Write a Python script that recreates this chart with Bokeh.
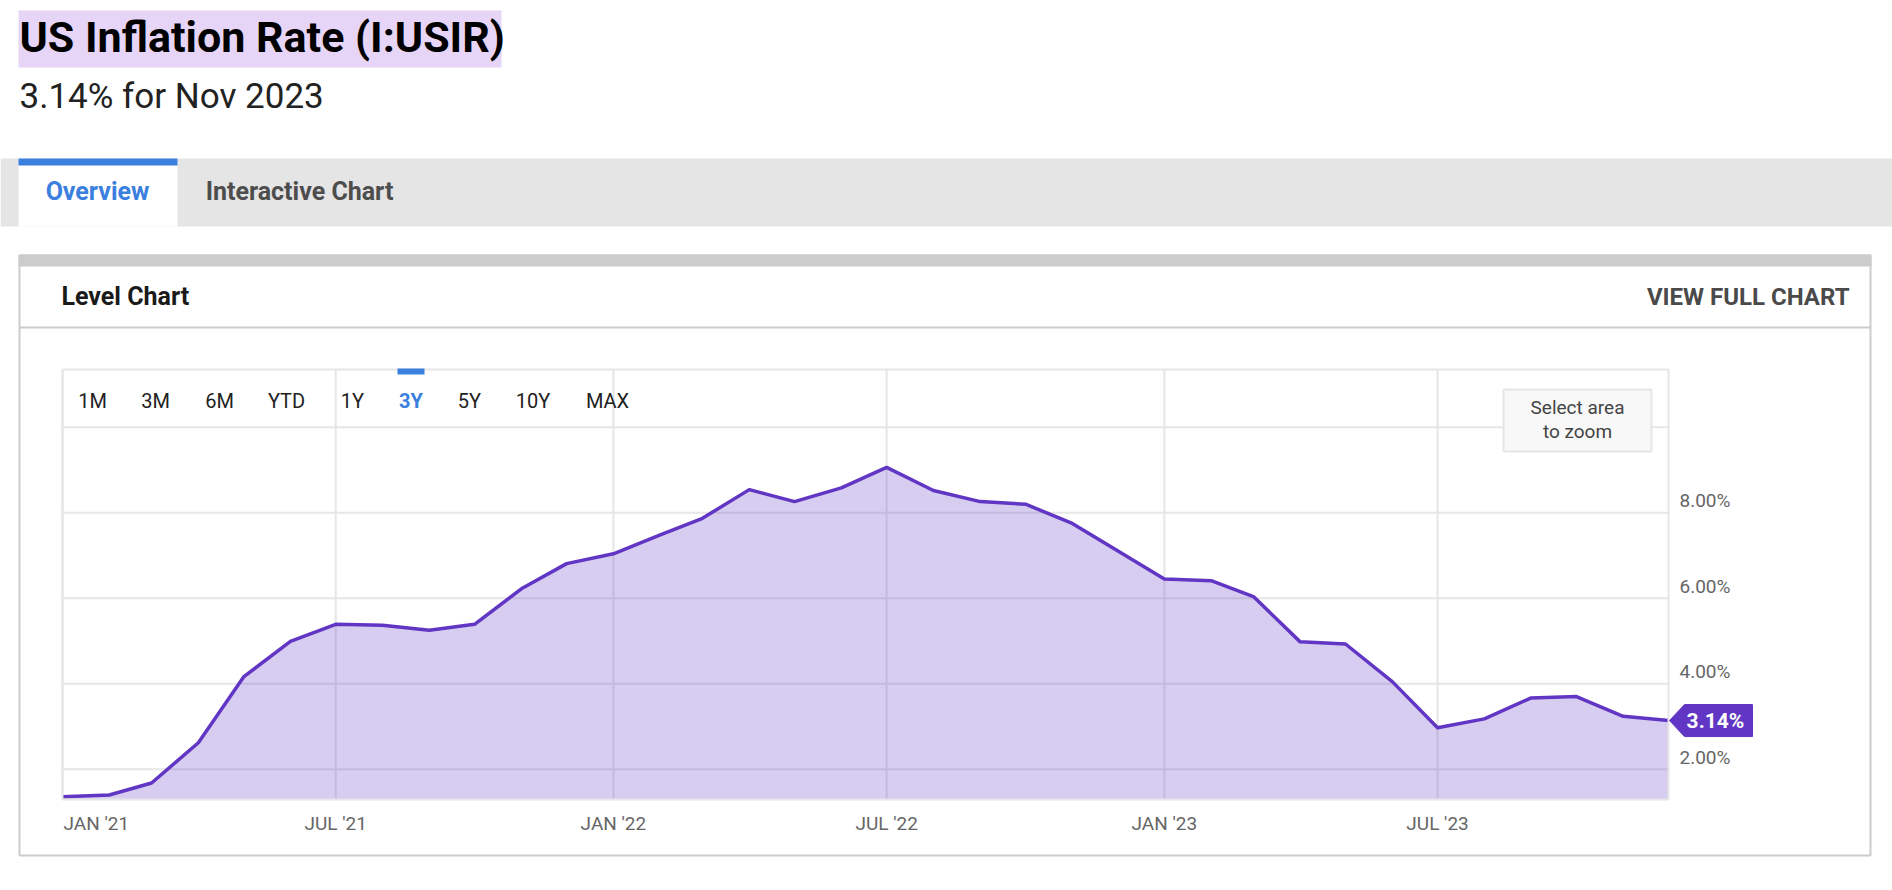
import numpy as np
import pandas as pd
from bokeh.plotting import figure
from bokeh.models import (Range1d, FixedTicker, PrintfTickFormatter, LinearAxis, DatetimeAxis,
                          Label, BoxAnnotation, PolyAnnotation)
from bokeh.embed import file_html
from bokeh.resources import INLINE

# ---------------- data ----------------
months = ["2020-12",
          "2021-01", "2021-02", "2021-03", "2021-04", "2021-05", "2021-06",
          "2021-07", "2021-08", "2021-09", "2021-10", "2021-11", "2021-12",
          "2022-01", "2022-02", "2022-03", "2022-04", "2022-05", "2022-06",
          "2022-07", "2022-08", "2022-09", "2022-10", "2022-11", "2022-12",
          "2023-01", "2023-02", "2023-03", "2023-04", "2023-05", "2023-06",
          "2023-07", "2023-08", "2023-09", "2023-10", "2023-11"]
inflation = [1.36,
             1.40, 1.68, 2.62, 4.16, 4.99, 5.39,
             5.37, 5.25, 5.39, 6.22, 6.81, 7.04,
             7.48, 7.87, 8.54, 8.26, 8.58, 9.06,
             8.52, 8.26, 8.20, 7.75, 7.11, 6.45,
             6.41, 6.04, 4.98, 4.93, 4.05, 2.97,
             3.18, 3.67, 3.70, 3.24, 3.14]
tick_dates = ["2021-01-01", "2021-07-01", "2022-01-01", "2022-07-01", "2023-01-01", "2023-07-01"]
tick_labels = ["JAN '21", "JUL '21", "JAN '22", "JUL '22", "JAN '23", "JUL '23"]
y_grid_ticks = [2, 4, 6, 8, 10]
y_label_ticks = [2, 4, 6, 8]
range_buttons = ["1M", "3M", "6M", "YTD", "1Y", "3Y", "5Y", "10Y", "MAX"]
active_button = "3Y"
title_text = "US Inflation Rate (I:USIR)"
period_text = "Nov 2023"

# each monthly value is plotted at the end of its month
dates = pd.to_datetime(months) + pd.offsets.MonthBegin(1)
x_ms = dates.values.astype("datetime64[ms]").astype("int64").astype(float)
tick_ms = pd.to_datetime(tick_dates).values.astype("datetime64[ms]").astype("int64").astype(float)

# ---------------- styling / layout ----------------
PURPLE = "#6136c4"
BLUE = "#3b80de"
FONT = "Roboto"
W, H = 1892, 890
FL, FR, FT, FB = 62, 1668, 369, 799          # chart area in page pixels
YMIN, YMAX = 1.294, 11.349                   # value axis limits of the chart area
X0, X1 = x_ms[0], x_ms[-1]                   # time axis limits of the chart area
KX = (X1 - X0) / (FR - FL)                   # ms per pixel
KY = (YMAX - YMIN) / (FB - FT)               # percentage points per pixel


def txt_corr(size):
    # label baseline correction (px), grows with font size
    return 0.42 * size


def dx(px):
    return X0 + (px - FL) * KX


def dy(py):
    return YMIN + (FB - py) * KY


p = figure(width=W, height=H, title=None, x_axis_location=None, y_axis_location=None,
           x_range=Range1d(dx(0), dx(W)), y_range=Range1d(dy(H), dy(0)),
           min_border=0, toolbar_location=None, output_backend="svg")
p.background_fill_color = "white"
p.border_fill_color = "white"
p.outline_line_color = None
p.xgrid.visible = False
p.ygrid.visible = False

GRID = "#e6e6e6"
# grid lines limited to the chart area
p.segment(x0=tick_ms, y0=[YMIN] * len(tick_ms), x1=tick_ms, y1=[YMAX] * len(tick_ms),
          line_color=GRID, line_width=2)
p.segment(x0=[X0] * len(y_grid_ticks), y0=y_grid_ticks, x1=[X1] * len(y_grid_ticks),
          y1=y_grid_ticks, line_color=GRID, line_width=2)

# series
p.varea(x=x_ms, y1=YMIN, y2=inflation, fill_color=PURPLE, fill_alpha=0.25)
p.line(x=x_ms, y=inflation, line_color=PURPLE, line_width=3.5, line_join="round")

# x axis (at the bottom of the chart area)
overrides = {float(t): lab for t, lab in zip(tick_ms, tick_labels)}
overrides[float(tick_ms[0])] = ""
xa = DatetimeAxis(fixed_location=YMIN, ticker=FixedTicker(ticks=list(tick_ms)),
                  major_label_overrides=overrides)
xa.axis_line_color = None
xa.major_tick_line_color = None
xa.minor_tick_line_color = None
xa.major_tick_out = 0
xa.major_label_standoff = 12
xa.major_label_text_font = FONT
xa.major_label_text_font_size = "19px"
xa.major_label_text_color = "#666666"
p.add_layout(xa, "below")

# y axis (right of the chart area), labels sitting just above their grid lines
shift = 12 * KY
p.extra_y_ranges = {"lbl": Range1d(dy(H) - shift, dy(0) - shift)}
ya = LinearAxis(fixed_location=X1, y_range_name="lbl", ticker=FixedTicker(ticks=y_label_ticks),
                formatter=PrintfTickFormatter(format="%.2f%%"))
ya.axis_line_color = None
ya.major_tick_line_color = None
ya.minor_tick_line_color = None
ya.major_tick_out = 0
ya.major_label_standoff = 11
ya.major_label_text_font = FONT
ya.major_label_text_font_size = "19px"
ya.major_label_text_color = "#666666"
p.add_layout(ya, "right")


# ---------------- page decorations ----------------
def box(x0, y0, x1, y1, fill=None, line=None, lw=0):
    p.add_layout(BoxAnnotation(left=dx(x0), right=dx(x1), top=dy(y0), bottom=dy(y1),
                               fill_color=fill, fill_alpha=1.0 if fill else 0.0,
                               line_color=line, line_alpha=1.0 if line else 0.0,
                               line_width=lw, level="annotation"))


def text(px, py, s, size, color, bold=False, align="left"):
    p.add_layout(Label(x=dx(px), y=dy(py - txt_corr(size)), text=s, text_font=FONT,
                       text_font_size=f"{size}px",
                       text_font_style="bold" if bold else "normal",
                       text_color=color, text_align=align, text_baseline="alphabetic"))


# chart area border
p.add_layout(BoxAnnotation(left=X0, right=X1, bottom=YMIN, top=YMAX, fill_alpha=0.0,
                           line_color=GRID, line_alpha=1.0, line_width=2, level="annotation"))

box(18, 10, 501, 67, fill="#e6d5f7")                 # title highlight
box(0, 158, W, 226, fill="#e5e5e5")                  # tab band
box(18, 158, 177, 226, fill="white")                 # active tab
box(18, 158, 177, 165, fill=BLUE)                    # active tab marker
box(19, 255, 1870, 855, line="#cccccc", lw=2)        # card border
box(18, 254, 1871, 266, fill="#cccccc")              # card top bar
box(19, 326, 1870, 328, fill="#cccccc")              # header divider
box(1503, 389, 1651, 451, fill="#f7f8f7", line="#e6e6e6", lw=2)   # zoom hint
box(397, 368, 424, 374, fill=BLUE)                   # active range marker

# last-value tag
last_v = inflation[-1]
hh = 16 * KY
tip = X1
p.add_layout(PolyAnnotation(xs=[tip + 1 * KX, tip + 16 * KX, tip + 84 * KX,
                                tip + 84 * KX, tip + 16 * KX],
                            ys=[last_v, last_v + hh, last_v + hh, last_v - hh, last_v - hh],
                            fill_color=PURPLE, fill_alpha=1.0, line_color=PURPLE,
                            line_alpha=1.0, line_width=1, level="annotation"))
p.add_layout(Label(x=tip, y=last_v - (9.3 - txt_corr(21)) * KY, x_offset=47,
                   text=f"{last_v:.2f}%",
                   text_font=FONT, text_font_size="21px", text_font_style="bold",
                   text_color="white", text_align="center", text_baseline="alphabetic"))

# texts
text(19, 55, title_text, 43, "#000000", bold=True)
text(19, 111, f"{last_v:.2f}% for {period_text}", 35, "#222222")
text(97, 201, "Overview", 25, BLUE, bold=True, align="center")
text(299, 201, "Interactive Chart", 25, "#4d4d4d", bold=True, align="center")
text(61, 306, "Level Chart", 25, "#1a1a1a", bold=True)
text(1849, 307, "VIEW FULL CHART", 24, "#4a4a4a", bold=True, align="right")
btn_centers = [92, 155, 219, 286, 352, 410.5, 469, 532.5, 607]
for c, b in zip(btn_centers, range_buttons):
    if b == active_button:
        text(c, 408.5, b, 20, BLUE, bold=True, align="center")
    else:
        text(c, 408.5, b, 20, "#222222", align="center")
text(1577, 415, "Select area", 19, "#444444", align="center")
text(1577, 438.5, "to zoom", 19, "#444444", align="center")
# first time label is kept inside the chart (left aligned at its tick)
p.add_layout(Label(x=tick_ms[0], y=dy(830 - 7), x_offset=1, text=tick_labels[0], text_font=FONT,
                   text_font_size="19px", text_color="#666666", text_align="left",
                   text_baseline="alphabetic"))

open("out.html", "w").write(file_html(p, INLINE))
